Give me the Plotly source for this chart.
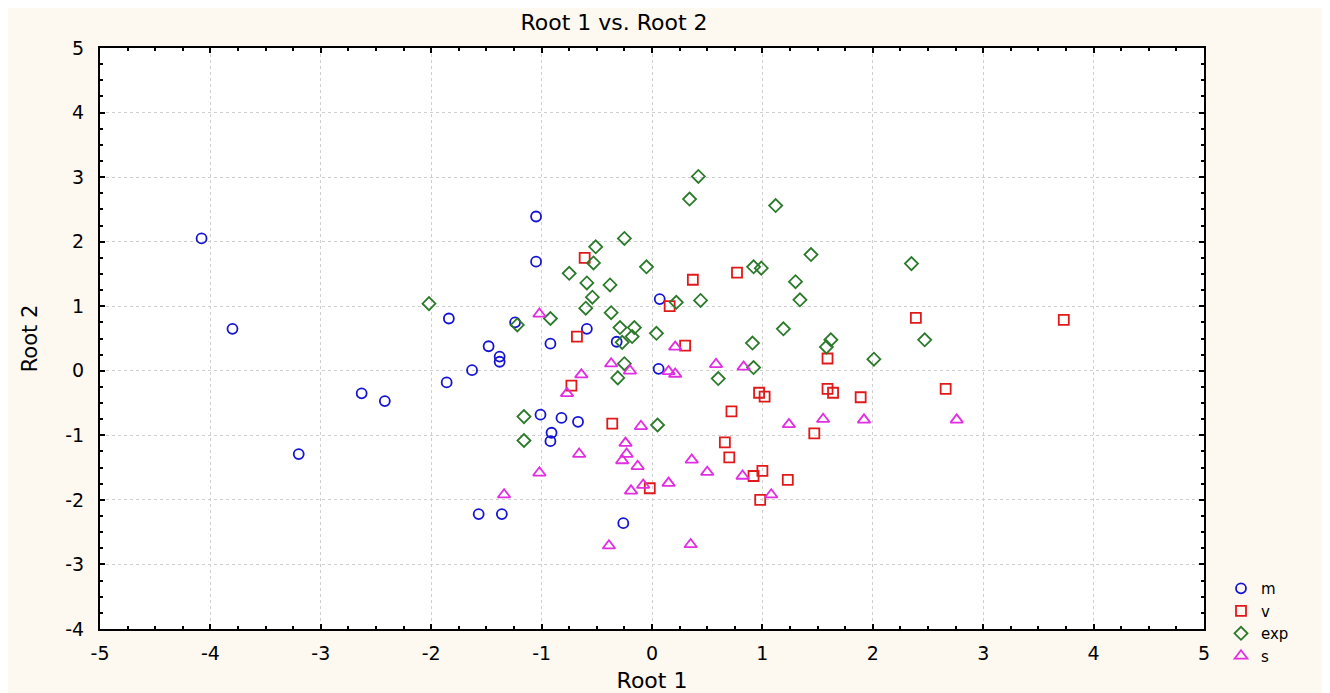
import plotly.graph_objects as go

m_x = [-4.08, -3.80, -3.20, -2.63, -2.42, -1.84, -1.48, -1.38, -1.38, -1.63, -1.86, -1.24, -1.57, -1.36,
       -1.05, -1.05, -1.01, -0.92, -0.82, -0.67, -0.91, -0.92, -0.59, -0.32, -0.26, 0.07, 0.06]
m_y = [2.05, 0.65, -1.29, -0.35, -0.47, 0.81, 0.38, 0.22, 0.14, 0.01, -0.18, 0.75, -2.22, -2.22,
       2.39, 1.69, -0.68, 0.42, -0.73, -0.79, -0.96, -1.09, 0.65, 0.45, -2.36, 1.11, 0.03]

v_x = [-0.61, 0.37, 0.77, 0.16, -0.68, 0.30, -0.73, 0.97, 1.02, 0.72, -0.36, 0.66, 0.70, 1.00, 0.92,
       -0.02, 0.98, 2.39, 1.59, 1.59, 1.64, 1.89, 2.66, 1.47, 1.23, 3.73]
v_y = [1.75, 1.41, 1.52, 1.00, 0.53, 0.39, -0.23, -0.34, -0.40, -0.63, -0.82, -1.11, -1.34, -1.55, -1.63,
       -1.82, -2.00, 0.82, 0.19, -0.28, -0.34, -0.41, -0.28, -0.97, -1.69, 0.79]

exp_x = [0.42, 0.34, 1.12, -0.25, -0.51, -0.53, -0.75, -0.05, 0.92, 0.99, -0.59, -0.38, -0.54, 0.22, 0.44,
         -0.60, -0.37, -0.92, -1.22, -0.29, -0.16, -0.18, 0.04, -0.27, 0.91, 1.19, -0.25, 0.92, -0.31, 0.60,
         -1.16, -1.16, 0.05, -2.02, 1.44, 1.30, 1.34, 2.35, 1.62, 1.58, 2.47, 2.01]
exp_y = [3.01, 2.66, 2.56, 2.05, 1.92, 1.67, 1.51, 1.61, 1.61, 1.59, 1.36, 1.33, 1.14, 1.06, 1.09,
         0.97, 0.90, 0.81, 0.71, 0.67, 0.67, 0.53, 0.58, 0.44, 0.43, 0.65, 0.11, 0.05, -0.11, -0.12,
         -0.71, -1.08, -0.84, 1.04, 1.80, 1.38, 1.10, 1.66, 0.48, 0.37, 0.48, 0.18]

s_x = [-1.02, 0.21, -0.37, -0.20, -0.64, 0.15, 0.21, 0.58, 0.83, -0.77, -0.10, -0.24, -0.66, -0.23, -0.27,
       -0.13, 0.36, 0.50, -1.02, 0.82, 0.15, -0.08, -0.19, 1.08, -1.34, -0.39, 0.35, 1.24, 1.55, 1.92, 2.76]
s_y = [0.88, 0.37, 0.11, 0.00, -0.06, -0.01, -0.05, 0.10, 0.06, -0.35, -0.86, -1.12, -1.29, -1.29, -1.39,
       -1.48, -1.38, -1.57, -1.58, -1.63, -1.74, -1.77, -1.86, -1.92, -1.92, -2.71, -2.69, -0.83, -0.75, -0.76, -0.76]

x_ticks = [-5, -4, -3, -2, -1, 0, 1, 2, 3, 4, 5]
y_ticks = [-4, -3, -2, -1, 0, 1, 2, 3, 4, 5]

FONT = "DejaVu Sans, Liberation Sans, Arial, sans-serif"

series = [
    ("m", m_x, m_y, "circle-open", "#1414d2", 10),
    ("v", v_x, v_y, "square-open", "#e01a1a", 10),
    ("exp", exp_x, exp_y, "diamond-open", "#2b7a2b", 10),
    ("s", s_x, s_y, "triangle-up-open", "#e22ee2", 11),
]

fig = go.Figure()
for name, xs, ys, sym, col, sz in series:
    fig.add_trace(go.Scatter(
        x=xs, y=ys, mode="markers", name=name,
        marker=dict(symbol=sym, size=sz, color=col, line=dict(width=1.8, color=col)),
    ))

axis_common = dict(
    showline=True, linecolor="black", linewidth=2, mirror="ticks",
    ticks="inside", ticklen=5, tickwidth=2, tickcolor="black",
    showgrid=True, gridcolor="#cfcfcf", griddash="dot", gridwidth=1,
    zeroline=False,
    tickfont=dict(family=FONT, size=19, color="black"),
    minor=dict(dtick=0.25, ticks="inside", ticklen=3, tickwidth=1.5, tickcolor="black", showgrid=False),
)

fig.update_xaxes(range=[-5, 5], tickvals=x_ticks, ticktext=[str(t) for t in x_ticks],
                 ticklabelstandoff=6,
                 title=dict(text="Root 1", font=dict(family=FONT, size=22, color="black"), standoff=13),
                 **axis_common)
fig.update_yaxes(range=[-4, 5], tickvals=y_ticks, ticktext=[str(t) for t in y_ticks],
                 ticklabelstandoff=10,
                 title=dict(text="Root 2", font=dict(family=FONT, size=21, color="black"), standoff=22),
                 **axis_common)

fig.update_layout(
    width=1322, height=685,
    margin=dict(l=92, r=126, t=40, b=64, autoexpand=False),
    paper_bgcolor="#fdf9f0", plot_bgcolor="white",
    title=dict(text="Root 1 vs. Root 2", x=0.4656, xref="paper", xanchor="center",
               y=1 - 14 / 685, yanchor="middle",
               font=dict(family=FONT, size=22, color="black")),
    legend=dict(x=1.0154, xanchor="left", y=0.098, yanchor="top",
                font=dict(family=FONT, size=15, color="black"),
                bgcolor="rgba(0,0,0,0)", itemwidth=30, tracegroupgap=0),
    showlegend=True,
)

fig.write_html("out.html")
